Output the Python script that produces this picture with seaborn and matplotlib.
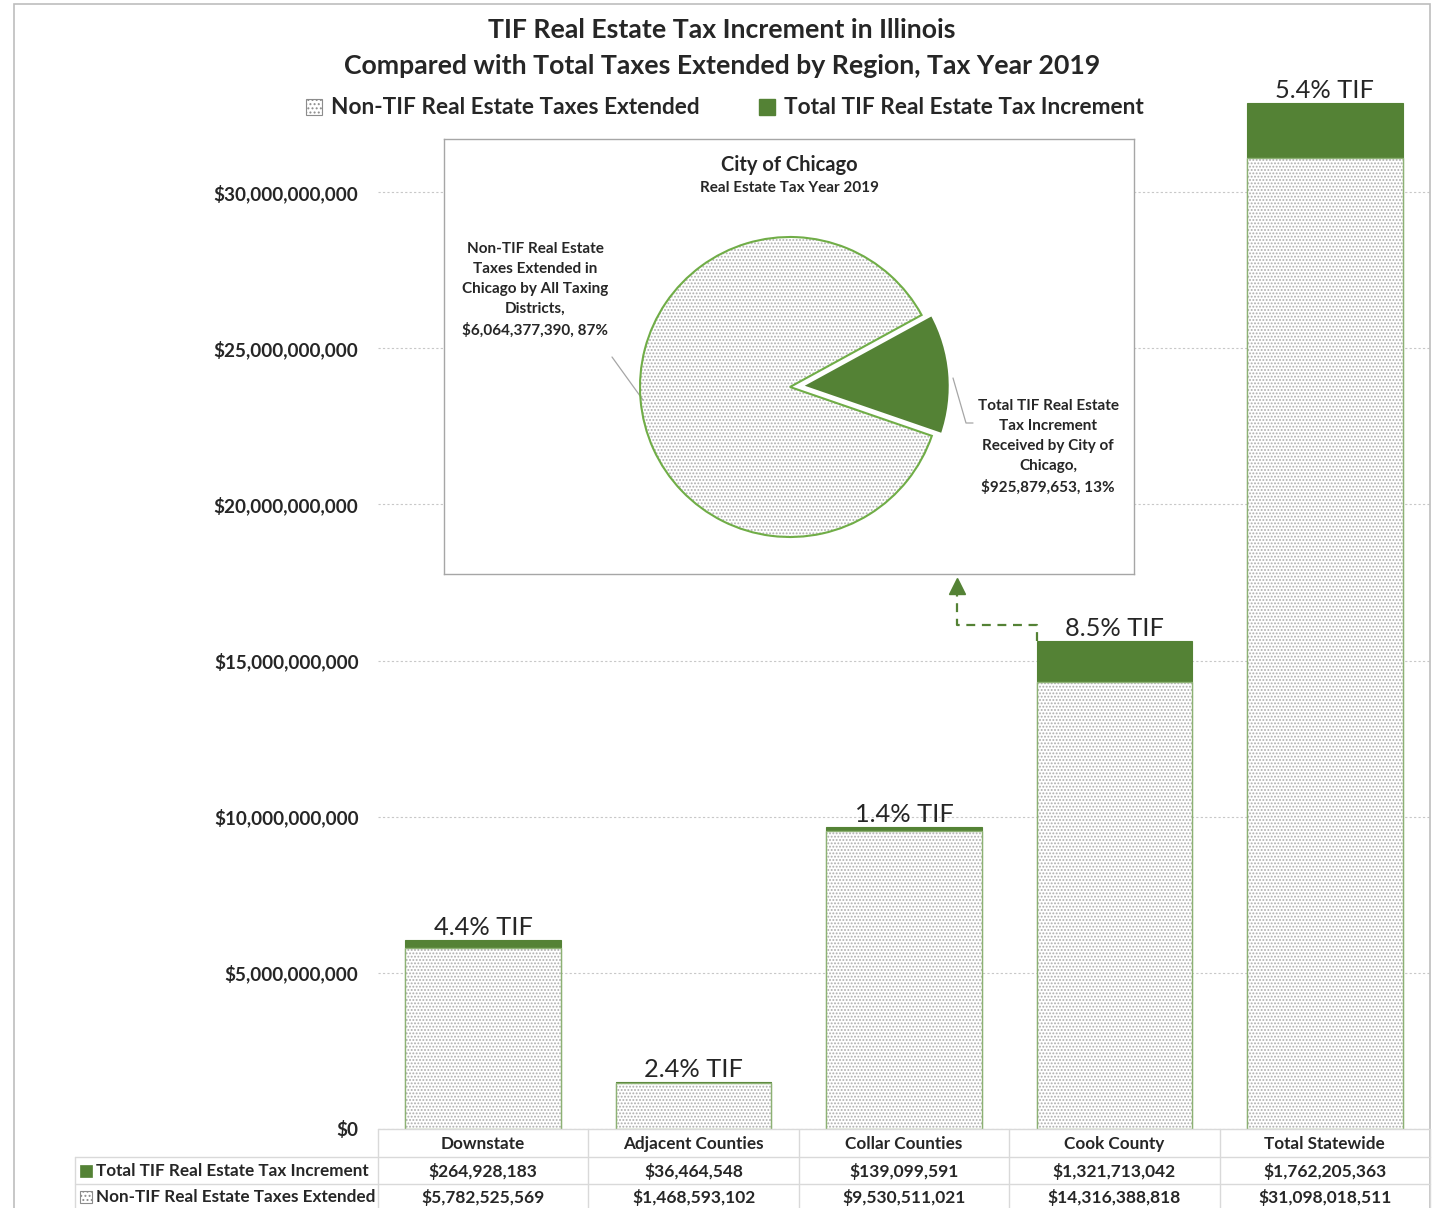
import numpy as np
import pandas as pd
import matplotlib
matplotlib.use("Agg")
import matplotlib.pyplot as plt
import matplotlib.transforms as mtransforms
from matplotlib.patches import Rectangle, Patch, Wedge
from matplotlib.lines import Line2D
from matplotlib.ticker import FuncFormatter
import seaborn as sns

# ---------------- data ----------------
regions = ["Downstate", "Adjacent Counties", "Collar Counties", "Cook County", "Total Statewide"]
tif_increment = [264928183, 36464548, 139099591, 1321713042, 1762205363]
non_tif_extended = [5782525569, 1468593102, 9530511021, 14316388818, 31098018511]
y_ticks = [0, 5e9, 10e9, 15e9, 20e9, 25e9, 30e9]

chicago_labels = ["Total TIF Real Estate\nTax Increment\nReceived by City of\nChicago",
                  "Non-TIF Real Estate\nTaxes Extended in\nChicago by All Taxing\nDistricts"]
chicago_values = [925879653, 6064377390]

series_names = ["Non-TIF Real Estate Taxes Extended", "Total TIF Real Estate Tax Increment"]
title_lines = ["TIF Real Estate Tax Increment in Illinois",
               "Compared with Total Taxes Extended by Region, Tax Year 2019"]

# ---------------- style ----------------
W, H = 1432, 1208
sns.set_style("white")
plt.rcParams["font.family"] = ["Lato", "DejaVu Sans"]
plt.rcParams["hatch.linewidth"] = 0.9

GREEN = "#548235"
EDGE_LIGHT = "#8DB174"
DOT = "#ADADAD"
GRID = "#C8C8C8"
TABLE = "#D9D9D9"

fig = plt.figure(figsize=(W / 100, H / 100), dpi=100)
fig.patch.set_facecolor("white")


def fx(px):
    return px / W


def fy(py):
    return 1 - py / H


# outer frame
fig.add_artist(Rectangle((fx(13.5), -0.01), fx(1430 - 13.5), fy(4) + 0.01,
                         transform=fig.transFigure, facecolor="none",
                         edgecolor="#BDBDBD", lw=1.2))

ax = fig.add_axes([fx(378), fy(1129), (1430 - 378) / W, (1129 - 36) / H])

df = pd.DataFrame({"region": regions, "tif": tif_increment, "nontif": non_tif_extended})
df["total"] = df["tif"] + df["nontif"]

# stacked: full total in green, non-TIF drawn over it with dotted texture
sns.barplot(data=df, x="region", y="total", color=GREEN, saturation=1, width=0.74,
            edgecolor=GREEN, linewidth=0.8, errorbar=None, ax=ax)
n_first = len(ax.patches)
sns.barplot(data=df, x="region", y="nontif", color="white", saturation=1, width=0.74,
            edgecolor=DOT, linewidth=0, hatch=".....", errorbar=None, ax=ax)
for p in ax.patches[n_first:]:
    p.set_facecolor("white")
    p.set_edgecolor(DOT)
sns.barplot(data=df, x="region", y="nontif", color=EDGE_LIGHT, saturation=1, width=0.74,
            fill=False, linewidth=1.0, errorbar=None, ax=ax)

ax.set_xlim(-0.5, len(regions) - 0.5)
ax.set_ylim(0, 35e9)
ax.set_yticks(y_ticks)
ax.yaxis.set_major_formatter(FuncFormatter(lambda v, _: f"${v:,.0f}"))
ax.tick_params(axis="y", length=0, pad=14, labelsize=13.6)
ax.tick_params(axis="x", length=0, pad=5, labelsize=12.3)
for t in ax.get_yticklabels() + ax.get_xticklabels():
    t.set_fontweight("bold")
ax.set_xlabel("")
ax.set_ylabel("")
for s in ax.spines.values():
    s.set_visible(False)
ax.yaxis.grid(True, color=GRID, linestyle=(0, (2, 2)), lw=0.8)
ax.set_axisbelow(True)

# percent labels
for i, (t, tot) in enumerate(zip(df["tif"], df["total"])):
    ax.annotate(f"{100 * t / tot:.1f}% TIF", (i, tot), xytext=(0, 0.8),
                textcoords="offset points", ha="center", va="bottom", fontsize=18.3)

# dashed arrow from Cook County to the inset
cook = regions.index("Cook County")
cook_total = df["total"][cook]
x_left = cook - 0.37
x_arrow = 2.252
y_turn = 16.14e9
y_base = 17.2e9
ax.plot([x_left, x_left, x_arrow, x_arrow], [cook_total, y_turn, y_turn, y_base],
        color=GREEN, lw=1.6, linestyle=(0, (4, 3)), zorder=5, clip_on=False)
ax.plot([x_arrow], [17.39e9], marker="^", markersize=11, color=GREEN, zorder=5, clip_on=False)

# ---------------- data table ----------------
trans = mtransforms.blended_transform_factory(ax.transData, fig.transFigure)
for b in np.arange(-0.5, len(regions), 1.0):
    fig.add_artist(Line2D([b, b], [fy(1129), fy(1210)], transform=trans, color=TABLE, lw=1))
fig.add_artist(Line2D([fx(378), fx(1430)], [fy(1129), fy(1129)], transform=fig.transFigure, color=TABLE, lw=1))
for yy in (1157, 1184):
    fig.add_artist(Line2D([fx(75), fx(1430)], [fy(yy), fy(yy)], transform=fig.transFigure, color=TABLE, lw=1))
fig.add_artist(Line2D([fx(75), fx(75)], [fy(1157), fy(1210)], transform=fig.transFigure, color=TABLE, lw=1))

for i, (t, nt) in enumerate(zip(tif_increment, non_tif_extended)):
    ax.text(i, fy(1171), f"${t:,}", transform=trans, ha="center", va="center",
            fontsize=12.5, fontweight="bold")
    ax.text(i, fy(1197), f"${nt:,}", transform=trans, ha="center", va="center",
            fontsize=12.5, fontweight="bold")

fig.add_artist(Rectangle((fx(80), fy(1177)), 12 / W, 12 / H, transform=fig.transFigure,
                         facecolor=GREEN, edgecolor=GREEN, lw=0.5))
sq = Rectangle((fx(80), fy(1203)), 12 / W, 12 / H, transform=fig.transFigure,
               facecolor="white", edgecolor="#8C8C8C", lw=0.8, hatch="....")
fig.add_artist(sq)
fig.text(fx(96), fy(1171), series_names[1], ha="left", va="center", fontsize=12.3, fontweight="bold")
fig.text(fx(96), fy(1197), series_names[0], ha="left", va="center", fontsize=12.3, fontweight="bold")

# ---------------- title & legend ----------------
fig.text(fx(722), fy(30), title_lines[0], ha="center", va="center", fontsize=19.2, fontweight="bold")
fig.text(fx(722), fy(66), title_lines[1], ha="center", va="center", fontsize=19.2, fontweight="bold")

handles = [Patch(facecolor="white", edgecolor="#8C8C8C", hatch="....", lw=0.8),
           Patch(facecolor=GREEN, edgecolor=GREEN)]
fig.legend(handles=handles, labels=series_names, loc="center",
           bbox_to_anchor=(fx(725), fy(108)), ncol=2, frameon=False,
           prop={"weight": "bold", "size": 16.3}, handlelength=0.7, handleheight=0.7,
           handletextpad=0.4, columnspacing=2.6)

# ---------------- Chicago pie inset ----------------
R = 150.0
cx, cy = 790, 387
pax = fig.add_axes([fx(444), fy(574), 690 / W, 435 / H])
pax.set_facecolor("white")
wedges, _ = pax.pie(chicago_values, startangle=-19, counterclock=True,
                    explode=[0.07, 0], radius=1, center=(0, 0), frame=True)
wedges[0].set(facecolor=GREEN, edgecolor="white", lw=2.5, zorder=3)
wedges[1].set(facecolor="white", edgecolor=DOT, lw=0, hatch=".....", zorder=2)
w1 = wedges[1]
pax.add_patch(Wedge(w1.center, w1.r, w1.theta1, w1.theta2, fill=False,
                    edgecolor="#70AD47", lw=1.5, zorder=2.5))
pax.set_xlim((444 - cx) / R, (1134 - cx) / R)
pax.set_ylim((cy - 574) / R, (cy - 139) / R)
pax.set_xticks([])
pax.set_yticks([])
for s in pax.spines.values():
    s.set_visible(True)
    s.set_color("#A6A6A6")
    s.set_linewidth(1)

pax.text(0.5, (574 - 165) / 435, "City of Chicago",
         transform=pax.transAxes, ha="center", va="center", fontsize=14.5, fontweight="bold")
pax.text(0.5, (574 - 188) / 435, "Real Estate Tax Year 2019",
         transform=pax.transAxes, ha="center", va="center", fontsize=11, fontweight="bold")

tot_chi = sum(chicago_values)
lab_tif = f"{chicago_labels[0]},\n${chicago_values[0]:,}, {100 * chicago_values[0] / tot_chi:.0f}%"
lab_non = f"{chicago_labels[1]},\n${chicago_values[1]:,}, {100 * chicago_values[1] / tot_chi:.0f}%"
pax.text((535 - cx) / R, (cy - 290) / R, lab_non, ha="center", va="center",
         fontsize=11, fontweight="bold", linespacing=1.55)
pax.text((1048 - cx) / R, (cy - 447) / R, lab_tif, ha="center", va="center",
         fontsize=11, fontweight="bold", linespacing=1.55)
pax.plot([(612 - cx) / R, (643 - cx) / R], [(cy - 357) / R, (cy - 400) / R], color="#A6A6A6", lw=0.9)
pax.plot([(953 - cx) / R, (966 - cx) / R, (973 - cx) / R],
         [(cy - 378) / R, (cy - 423) / R, (cy - 423) / R], color="#A6A6A6", lw=0.9)

fig.savefig("out.png", dpi=100)
